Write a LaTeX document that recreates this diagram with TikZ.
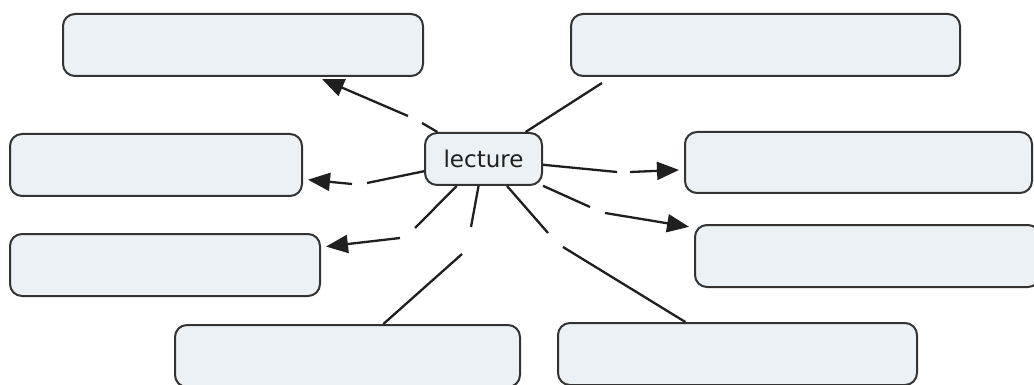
\documentclass[tikz,border=0pt]{standalone}
\usepackage{fontspec}
\setmainfont{DejaVu Sans}
\usetikzlibrary{arrows.meta}
\definecolor{conceptfill}{HTML}{EBF1F4}
\definecolor{conceptline}{HTML}{333333}
\begin{document}
\begin{tikzpicture}[x=1pt,y=-1pt,
  concept/.style={draw=conceptline,fill=conceptfill,line width=2pt,
    rounded corners=12pt,inner sep=0pt},
  link/.style={draw=black!88,line width=2.3pt},
  arrowlink/.style={link,-{Triangle[length=22pt,width=18pt]},shorten >=5pt}]
\useasboundingbox (0,0) rectangle (1034,385);
\clip (0,0) rectangle (1034,385);

% central concept
\node[concept,minimum width=117pt,minimum height=52pt,text=black!88,
  font=\fontsize{23}{26}\selectfont] (lec) at (483.5,159) {lecture};

% surrounding (empty) concepts
\node[concept,minimum width=360pt,minimum height=62pt] (tl) at (243,45) {};
\node[concept,minimum width=389pt,minimum height=62pt] (tr) at (765.5,45) {};
\node[concept,minimum width=292pt,minimum height=62pt] (lm) at (156,165) {};
\node[concept,minimum width=310pt,minimum height=62pt] (ll) at (165,265) {};
\node[concept,minimum width=347pt,minimum height=61pt] (rm) at (858.5,162.5) {};
\node[concept,minimum width=345pt,minimum height=62pt] (rl) at (867.5,256) {};
\node[concept,minimum width=345pt,minimum height=62pt] (bl) at (347.5,356) {};
\node[concept,minimum width=359pt,minimum height=62pt] (br) at (737.5,354) {};

% ends of the segments on either side of each empty linking phrase
\coordinate (tlA) at (422,123);  \coordinate (tlB) at (408,116);
\coordinate (trA) at (602,83);
\coordinate (lmA) at (367,183);  \coordinate (lmB) at (352,184);
\coordinate (llA) at (415,228);  \coordinate (llB) at (400,238);
\coordinate (blA) at (471,227);  \coordinate (blB) at (462,254);
\coordinate (brA) at (548,233);  \coordinate (brB) at (563,247);
\coordinate (rmA) at (617,172);  \coordinate (rmB) at (630,172);
\coordinate (rlA) at (590,207);  \coordinate (rlB) at (605,213);

% links
\draw[link] (lec) -- (tlA);  \draw[arrowlink] (tlB) -- (tl);
\draw[link] (lec) -- (trA);
\draw[link] (lec) -- (lmA);  \draw[arrowlink] (lmB) -- (lm);
\draw[link] (lec) -- (llA);  \draw[arrowlink] (llB) -- (ll);
\draw[link] (lec) -- (blA);  \draw[link] (blB) -- (bl);
\draw[link] (lec) -- (brA);  \draw[link] (brB) -- (br);
\draw[link] (lec) -- (rmA);  \draw[arrowlink] (rmB) -- (rm);
\draw[link] (lec) -- (rlA);  \draw[arrowlink] (rlB) -- (rl);
\end{tikzpicture}
\end{document}
